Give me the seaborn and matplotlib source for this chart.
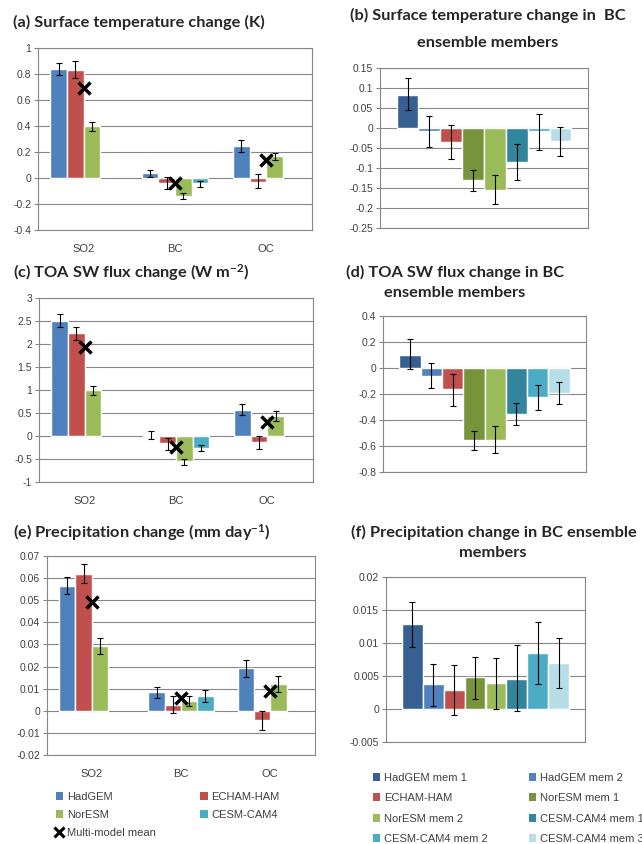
import numpy as np
import pandas as pd
import matplotlib
matplotlib.use("Agg")
import matplotlib.pyplot as plt
from matplotlib.ticker import MultipleLocator, FuncFormatter
from matplotlib.patches import Patch
from matplotlib.lines import Line2D
import seaborn as sns

# ---- data ----
species = ["SO2", "BC", "OC"]
models = ["HadGEM", "ECHAM-HAM", "NorESM", "CESM-CAM4"]
model_colors = ["#4F81BD", "#C0504D", "#9BBB59", "#4BACC6"]

members = ["HadGEM mem 1", "HadGEM mem 2", "ECHAM-HAM", "NorESM mem 1",
           "NorESM mem 2", "CESM-CAM4 mem 1", "CESM-CAM4 mem 2", "CESM-CAM4 mem 3"]
member_colors = ["#376092", "#4F81BD", "#C0504D", "#77933C",
                 "#9BBB59", "#31859C", "#4BACC6", "#B7DEE8"]

# (a) surface temperature change, rows = models, cols = SO2, BC, OC
dT_val = [[0.838, 0.035, 0.248],
          [0.833, -0.035, -0.027],
          [0.400, -0.140, 0.171],
          [np.nan, -0.042, np.nan]]
dT_lo = [[0.792, 0.004, 0.201],
         [0.766, -0.083, -0.078],
         [0.363, -0.163, 0.142],
         [np.nan, -0.070, np.nan]]
dT_hi = [[0.885, 0.065, 0.291],
         [0.900, 0.004, 0.027],
         [0.433, -0.117, 0.196],
         [np.nan, -0.022, np.nan]]
dT_mean = [0.689, -0.042, 0.135]

# (c) TOA SW flux change
sw_val = [[2.51, 0.03, 0.57],
          [2.23, -0.16, -0.14],
          [0.99, -0.55, 0.44],
          [np.nan, -0.27, np.nan]]
sw_lo = [[2.38, -0.06, 0.45],
         [2.09, -0.31, -0.28],
         [0.90, -0.62, 0.33],
         [np.nan, -0.33, np.nan]]
sw_hi = [[2.65, 0.10, 0.69],
         [2.37, -0.04, 0.00],
         [1.08, -0.49, 0.54],
         [np.nan, -0.20, np.nan]]
sw_mean = [1.93, -0.23, 0.30]

# (e) precipitation change
pr_val = [[0.0566, 0.0083, 0.0193],
          [0.0620, 0.0027, -0.0042],
          [0.0295, 0.0044, 0.0122],
          [np.nan, 0.0066, np.nan]]
pr_lo = [[0.0527, 0.0059, 0.0154],
         [0.0580, -0.0009, -0.0086],
         [0.0256, 0.0020, 0.0086],
         [np.nan, 0.0039, np.nan]]
pr_hi = [[0.0605, 0.0107, 0.0230],
         [0.0663, 0.0066, 0.0000],
         [0.0331, 0.0065, 0.0158],
         [np.nan, 0.0092, np.nan]]
pr_mean = [0.0490, 0.0056, 0.0090]

# (b) BC members, surface temperature
mT_val = [0.083, -0.008, -0.036, -0.131, -0.156, -0.084, -0.008, -0.032]
mT_lo = [0.045, -0.048, -0.078, -0.157, -0.190, -0.130, -0.054, -0.069]
mT_hi = [0.124, 0.029, 0.008, -0.105, -0.118, -0.041, 0.035, 0.003]

# (d) BC members, TOA SW
mS_val = [0.102, -0.059, -0.164, -0.557, -0.552, -0.353, -0.220, -0.192]
mS_lo = [-0.008, -0.156, -0.290, -0.629, -0.652, -0.442, -0.320, -0.279]
mS_hi = [0.220, 0.041, -0.043, -0.488, -0.448, -0.269, -0.128, -0.105]

# (f) BC members, precipitation
mP_val = [0.01283, 0.00372, 0.00287, 0.00483, 0.00387, 0.00458, 0.00845, 0.00700]
mP_lo = [0.00936, 0.00045, -0.00090, 0.00156, 0.00000, -0.00030, 0.00382, 0.00322]
mP_hi = [0.01625, 0.00689, 0.00664, 0.00785, 0.00770, 0.00966, 0.01323, 0.01071]

sns.set_theme(style="white")
plt.rcParams["font.family"] = ["Liberation Sans", "DejaVu Sans"]
plt.rcParams["mathtext.fontset"] = "custom"
plt.rcParams["mathtext.rm"] = "Lato:bold"
plt.rcParams["mathtext.default"] = "rm"
GRAY = "#868686"
TICK = "#404040"
TITLE_FONT = dict(family=["Lato", "DejaVu Sans"], fontweight="bold", fontsize=11.8)

W, H = 642, 844
fig = plt.figure(figsize=(W / 100, H / 100), dpi=100)


def px_axes(left, top, right, bottom):
    return fig.add_axes([left / W, 1 - bottom / H, (right - left) / W, (bottom - top) / H])


def fmt(v, pos):
    v = round(v, 6)
    if abs(v) < 1e-12:
        return "0"
    return f"{v:g}"


def style_axes(ax, ymin, ymax, step):
    ax.set_ylim(ymin, ymax)
    ax.yaxis.set_major_locator(MultipleLocator(step))
    ax.yaxis.set_major_formatter(FuncFormatter(fmt))
    ax.grid(axis="y", color=GRAY, lw=0.8)
    ax.set_axisbelow(True)
    for s in ax.spines.values():
        s.set_color(GRAY)
        s.set_linewidth(0.8)
    ax.tick_params(axis="y", left=True, length=3, width=0.8, color=GRAY,
                   labelsize=7.5, labelcolor=TICK, pad=2)
    ax.tick_params(axis="x", bottom=False, length=0, labelsize=8,
                   labelcolor=TICK, pad=10)
    ax.set_xlabel("")
    ax.set_ylabel("")


def add_err(ax, cx, v, lo, hi):
    ax.errorbar(cx, v, yerr=[[v - lo], [hi - v]], fmt="none", ecolor="black",
                elinewidth=0.8, capsize=2, capthick=0.8, zorder=4)


def model_panel(ax, val, lo, hi, mean, ylim, step):
    rows = []
    for m, vs, ls, hs in zip(models, val, lo, hi):
        for s, v, l, h in zip(species, vs, ls, hs):
            rows.append(dict(species=s, model=m, value=v, lo=l, hi=h))
    df = pd.DataFrame(rows)
    sns.barplot(data=df.dropna(), x="species", y="value", hue="model",
                order=species, hue_order=models, palette=model_colors,
                width=0.73, errorbar=None, saturation=1, legend=False, ax=ax)
    for m, cont in zip(models, ax.containers):
        for bar in cont:
            cx = bar.get_x() + bar.get_width() / 2
            s = species[int(round(cx))]
            r = df[(df.model == m) & (df.species == s)].iloc[0]
            add_err(ax, cx, r.value, r.lo, r.hi)
    ax.plot(species, mean, ls="none", marker="x", color="black",
            markersize=8, mew=2.5, zorder=5)
    ax.set_xlim(-0.5, 2.5)
    style_axes(ax, ylim[0], ylim[1], step)


def member_panel(ax, val, lo, hi, ylim, step):
    df = pd.DataFrame(dict(member=members, value=val, lo=lo, hi=hi))
    sns.barplot(data=df, x="member", y="value", hue="member", order=members,
                hue_order=members, palette=member_colors, width=1,
                errorbar=None, saturation=1, legend=False, ax=ax)
    bars = sorted(ax.patches, key=lambda b: b.get_x())
    for bar, (_, r) in zip(bars, df.iterrows()):
        add_err(ax, bar.get_x() + bar.get_width() / 2, r.value, r.lo, r.hi)
    ax.set_xlim(-1.26, 8.26)
    ax.set_xticks([])
    style_axes(ax, ylim[0], ylim[1], step)


# left column
ax_a = px_axes(38, 48, 312, 230)
model_panel(ax_a, dT_val, dT_lo, dT_hi, dT_mean, (-0.4, 1.0), 0.2)
ax_c = px_axes(39, 298, 313, 482)
model_panel(ax_c, sw_val, sw_lo, sw_hi, sw_mean, (-1, 3), 0.5)
ax_e = px_axes(47, 556, 315, 755)
model_panel(ax_e, pr_val, pr_lo, pr_hi, pr_mean, (-0.02, 0.07), 0.01)

# right column
ax_b = px_axes(380, 68, 588, 228)
member_panel(ax_b, mT_val, mT_lo, mT_hi, (-0.25, 0.15), 0.05)
ax_d = px_axes(383, 316, 586, 472)
member_panel(ax_d, mS_val, mS_lo, mS_hi, (-0.8, 0.4), 0.2)
ax_f = px_axes(386, 577, 585, 742)
member_panel(ax_f, mP_val, mP_lo, mP_hi, (-0.005, 0.02), 0.005)


# titles
def ftext(x, y, s, **kw):
    fig.text(x / W, 1 - y / H, s, va="center", **TITLE_FONT, **kw)


ftext(13, 22, "(a) Surface temperature change (K)", ha="left")
ftext(13, 273, r"(c) TOA SW flux change (W m$^{\mathrm{-2}}$)", ha="left")
ftext(13, 533, r"(e) Precipitation change (mm day$^{\mathrm{-1}}$)", ha="left")
ftext(488, 15, "(b) Surface temperature change in  BC", ha="center")
ftext(488, 43, "ensemble members", ha="center")
ftext(455, 272, "(d) TOA SW flux change in BC", ha="center")
ftext(455, 293, "ensemble members", ha="center")
ftext(494, 532, "(f) Precipitation change in BC ensemble", ha="center")
ftext(493, 553, "members", ha="center")

# legends
h_models = [Patch(facecolor=c, edgecolor="none") for c in model_colors]
h_mean = Line2D([], [], ls="none", marker="x", color="black", markersize=7, mew=2.2)
fig.legend([h_models[0], h_models[2], h_mean, h_models[1], h_models[3]],
           ["HadGEM", "NorESM", "Multi-model mean", "ECHAM-HAM", "CESM-CAM4"],
           ncol=2, loc="upper left", bbox_to_anchor=(50 / W, 1 - 786 / H),
           frameon=False, fontsize=8, handlelength=0.7, handleheight=0.7,
           handletextpad=0.3, columnspacing=4.0, labelspacing=0.75,
           borderpad=0, labelcolor=TICK)

h_mem = [Patch(facecolor=c, edgecolor="none") for c in member_colors]
order = [0, 2, 4, 6, 1, 3, 5, 7]
fig.legend([h_mem[i] for i in order], [members[i] for i in order],
           ncol=2, loc="upper left", bbox_to_anchor=(367 / W, 1 - 767 / H),
           frameon=False, fontsize=8, handlelength=0.7, handleheight=0.7,
           handletextpad=0.3, columnspacing=3.7, labelspacing=0.95,
           borderpad=0, labelcolor=TICK)

fig.savefig("out.png", dpi=100, facecolor="white")
